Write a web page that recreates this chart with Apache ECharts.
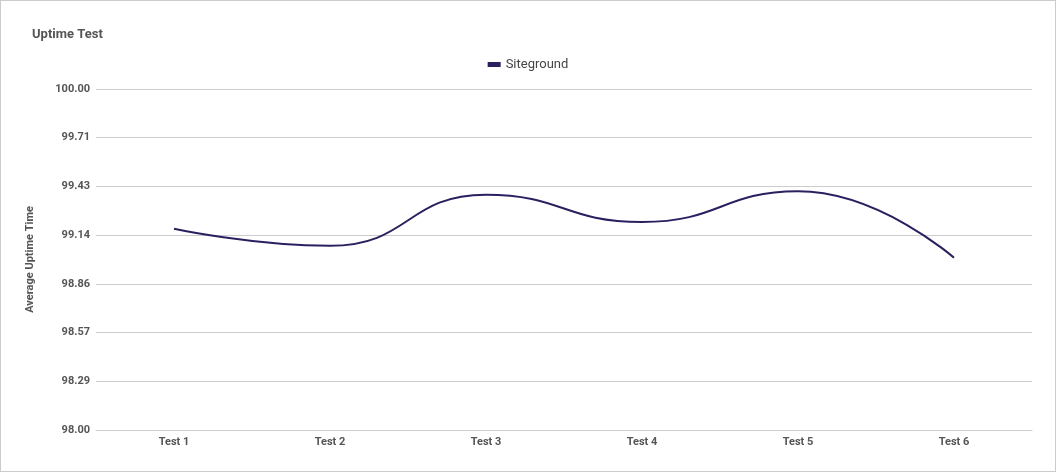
<!DOCTYPE html>
<html>
<head>
<meta charset="utf-8">
<script src="https://cdn.jsdelivr.net/npm/echarts@6/dist/echarts.min.js"></script>
<style>
html,body{margin:0;padding:0;background:#fff;}
#chart{width:1054px;height:470px;border:1px solid #ccc;}
</style>
</head>
<body>
<div id="chart"></div>
<script>
var categories = ['Test 1', 'Test 2', 'Test 3', 'Test 4', 'Test 5', 'Test 6'];
var siteground = [99.18, 99.08, 99.38, 99.22, 99.40, 99.01];
var yMin = 98, yMax = 100, yStep = 2 / 7;

var myChart = echarts.init(document.getElementById('chart'));
myChart.setOption({
	title: {
		text: 'Uptime Test',
		left: 26,
		top: 22,
		textStyle: { fontFamily: 'Roboto', fontSize: 13, fontWeight: 'bold', color: '#555' }
	},
	legend: {
		data: ['Siteground'],
		top: 52,
		left: 'center',
		icon: 'rect',
		itemWidth: 13,
		itemHeight: 5,
		textStyle: { fontFamily: 'Roboto', fontSize: 13, color: '#444' }
	},
	grid: { left: 95, right: 23, top: 88, bottom: 41 },
	xAxis: {
		type: 'category',
		data: categories,
		axisLine: { lineStyle: { color: '#ccc' } },
		axisTick: { show: false },
		axisLabel: { fontFamily: 'Roboto', fontSize: 11, fontWeight: 'bold', color: '#555', margin: 7 }
	},
	yAxis: {
		type: 'value',
		min: yMin,
		max: yMax,
		interval: yStep,
		name: 'Average Uptime Time',
		nameLocation: 'middle',
		nameGap: 60,
		nameTextStyle: { fontFamily: 'Roboto', fontSize: 11, fontWeight: 'bold', color: '#555' },
		axisLine: { show: false },
		axisTick: { show: false },
		axisLabel: {
			fontFamily: 'Roboto', fontSize: 11, fontWeight: 'bold', color: '#555', margin: 6,
			formatter: function (v) { return v.toFixed(2); }
		},
		splitLine: { lineStyle: { color: '#ccc' } }
	},
	series: [{
		name: 'Siteground',
		type: 'line',
		data: siteground,
		smooth: 0.5,
		symbol: 'none',
		color: '#2a2060',
		lineStyle: { width: 2 }
	}]
});
</script>
</body>
</html>
